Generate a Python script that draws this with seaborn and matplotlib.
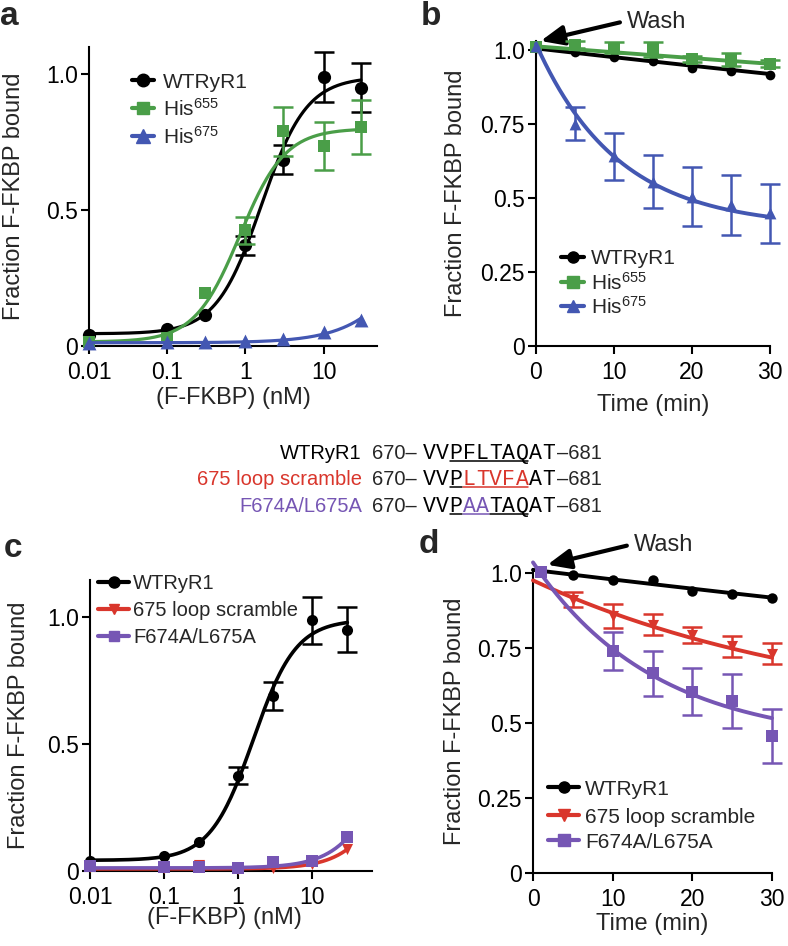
import numpy as np
import matplotlib
matplotlib.use('Agg')
import matplotlib.pyplot as plt
import seaborn as sns
from matplotlib.lines import Line2D

# ---------------- values ----------------
conc = [0.01, 0.1, 0.3, 1, 3, 10, 30]      # (F-FKBP) nM
time = [0, 5, 10, 15, 20, 25, 30]          # min

# a: binding, WT / His655 / His675
wt_a = [0.040, 0.064, 0.115, 0.370, 0.686, 0.988, 0.950]
wt_a_err = [0, 0, 0, 0.035, 0.052, 0.092, 0.090]
his655_a = [0.015, 0.030, 0.195, 0.425, 0.790, 0.736, 0.806]
his655_a_err = [0, 0, 0, 0.050, 0.090, 0.087, 0.100]
his675_a = [0.012, 0.015, 0.015, 0.020, 0.025, 0.050, 0.097]
his675_a_err = [0, 0, 0, 0, 0, 0, 0]

# b: dissociation after wash
wt_b = [1.005, 0.992, 0.975, 0.962, 0.940, 0.930, 0.915]
wt_b_err = [0, 0, 0, 0, 0, 0, 0]
his655_b = [1.010, 1.017, 1.008, 1.002, 0.968, 0.966, 0.953]
his655_b_err = [0, 0.012, 0.020, 0.025, 0.010, 0.022, 0.012]
his675_b = [1.013, 0.751, 0.640, 0.555, 0.504, 0.476, 0.448]
his675_b_err = [0, 0.055, 0.080, 0.090, 0.100, 0.100, 0.100]

# c: binding, WT / 675 loop scramble / F674A-L675A
wt_c = [0.041, 0.060, 0.116, 0.376, 0.690, 0.987, 0.950]
wt_c_err = [0, 0, 0, 0.033, 0.055, 0.094, 0.089]
scr_c = [0.017, 0.013, 0.024, 0.007, 0.010, 0.028, 0.085]
scr_c_err = [0, 0, 0, 0, 0, 0, 0]
ala_c = [0.020, 0.015, 0.015, 0.010, 0.034, 0.040, 0.135]
ala_c_err = [0, 0, 0, 0, 0, 0, 0]

# d: dissociation after wash
wt_d_t = [1, 5, 10, 15, 20, 25, 30]
wt_d = [1.005, 0.994, 0.978, 0.978, 0.939, 0.931, 0.918]
wt_d_err = [0, 0, 0, 0, 0, 0, 0]
scr_d_t = [5, 10, 15, 20, 25, 30]
scr_d = [0.910, 0.855, 0.828, 0.792, 0.755, 0.730]
scr_d_err = [0.025, 0.040, 0.035, 0.027, 0.035, 0.035]
ala_d_t = [1, 10, 15, 20, 25, 30]
ala_d = [1.003, 0.740, 0.665, 0.604, 0.574, 0.458]
ala_d_err = [0, 0.062, 0.075, 0.078, 0.090, 0.090]

# fitted curves: Hill (bottom, top, EC50, n) and one-phase decay (y0, plateau, k)
wt_a_fit = (0.045, 0.99, 1.6, 1.5)
his655_a_fit = (0.015, 0.80, 0.85, 1.5)
his675_a_fit = (0.012, 1.0, 300, 1.0)
wt_b_fit = (1.005, 0.0, 0.003)
his655_b_fit = (1.012, 0.0, 0.002)
his675_b_fit = (1.02, 0.40, 0.095)
wt_c_fit = (0.042, 0.99, 1.6, 1.5)
scr_c_fit = (0.008, 1.0, 200, 1.3)
ala_c_fit = (0.012, 1.0, 139, 1.3)
wt_d_fit = (1.01, 0.0, 0.0032)
scr_d_fit = (0.975, 0.5, 0.026)
ala_d_fit = (1.035, 0.43, 0.065)

BLACK = '#000000'
GREEN = '#4a9e48'
BLUE = '#4357b2'
RED = '#d9362c'
PURPLE = '#7656b4'


def hill(x, bottom, top, ec50, n):
    return bottom + (top - bottom) / (1 + (ec50 / x) ** n)


def decay(t, y0, plateau, k):
    return plateau + (y0 - plateau) * np.exp(-k * t)


sns.set_theme(style='ticks')
plt.rcParams['font.family'] = ['Liberation Sans', 'DejaVu Sans']
plt.rcParams['mathtext.fontset'] = 'custom'
plt.rcParams['mathtext.rm'] = 'Liberation Sans'
plt.rcParams['mathtext.default'] = 'regular'

W, H = 788, 946
fig = plt.figure(figsize=(W / 100, H / 100), dpi=100)


def fx(x):
    return x / W


def fy(y):
    return 1 - y / H


def add_ax(left, top, right, bottom):
    return fig.add_axes([fx(left), fy(bottom), (right - left) / W, (bottom - top) / H])


def series(ax, x, y, err, color, marker, ms, cx, cy, lw, z):
    sns.lineplot(x=cx, y=cy, ax=ax, color=color, lw=lw, zorder=z, legend=False)
    ax.lines[-1].set_clip_on(False)
    x, y, err = np.asarray(x, float), np.asarray(y, float), np.asarray(err, float)
    m = err > 0
    if m.any():
        eb = ax.errorbar(x[m], y[m], yerr=err[m], fmt='none', ecolor=color,
                         elinewidth=1.8, capsize=7, capthick=1.8, zorder=z + 0.1)
        for art in list(eb[1]) + list(eb[2]):
            art.set_clip_on(False)
    sns.scatterplot(x=x, y=y, ax=ax, color=color, marker=marker, s=ms ** 2,
                    linewidth=0, zorder=z + 0.2, clip_on=False, legend=False)


def style_ax(ax, ylabel_x, xlabel_y, xlabel_x=0.5):
    sns.despine(ax=ax)
    for s in ['left', 'bottom']:
        ax.spines[s].set_linewidth(1.5)
        ax.spines[s].set_color('black')
    ax.tick_params(axis='both', direction='out', length=6, width=1.5,
                   colors='black', labelsize=16.5)
    ax.tick_params(axis='y', pad=2)
    ax.tick_params(axis='x', pad=5)
    ax.set_ylabel('Fraction F-FKBP bound', fontsize=17)
    ax.yaxis.set_label_coords(ylabel_x, 0.5)
    ax.xaxis.set_label_coords(xlabel_x, xlabel_y)


def legend(entries, x0, x1, xt, ys, size, lw):
    for (label, color, marker, ms), y in zip(entries, ys):
        fig.add_artist(Line2D([fx(x0), fx(x1)], [fy(y), fy(y)], color=color, lw=lw))
        fig.add_artist(Line2D([fx((x0 + x1) / 2)], [fy(y)], color=color,
                              marker=marker, ms=ms, lw=0))
        fig.text(fx(xt), fy(y + 0.36 * size * 100 / 72), label, fontsize=size,
                 ha='left', va='baseline')


def wash(ax, tip, txt):
    ax.annotate('Wash', xy=tip, xytext=txt, fontsize=17, ha='left', va='center',
                annotation_clip=False,
                arrowprops=dict(arrowstyle='-|>,head_length=0.7,head_width=0.3',
                                mutation_scale=20, lw=3, color='black',
                                relpos=(0, 0.55), shrinkA=3, shrinkB=0))


cgrid = np.logspace(-2, np.log10(30), 200)
tgrid = np.linspace(0, 30, 200)

# ---------------- panel a ----------------
ax = add_ax(89, 47, 377, 346)
ax.set_xscale('log')
series(ax, conc, wt_a, wt_a_err, BLACK, 'o', 9.5, cgrid, hill(cgrid, *wt_a_fit), 2.3, 3)
series(ax, conc, his655_a, his655_a_err, GREEN, 's', 9, cgrid, hill(cgrid, *his655_a_fit), 2.3, 4)
series(ax, conc, his675_a, his675_a_err, BLUE, '^', 10, cgrid, hill(cgrid, *his675_a_fit), 2.3, 5)
ax.set_xlim(0.01, 48.2)
ax.set_ylim(0, 1.1)
ax.set_xticks([0.01, 0.1, 1, 10])
ax.set_xticklabels(['0.01', '0.1', '1', '10'])
ax.xaxis.set_minor_locator(matplotlib.ticker.NullLocator())
ax.set_yticks([0, 0.5, 1.0])
ax.set_yticklabels(['0', '0.5', '1.0'])
ax.set_xlabel('(F-FKBP) (nM)', fontsize=17, va='top')
style_ax(ax, -0.222, -0.137)
legend([('WTRyR1', BLACK, 'o', 9), ('His$^{655}$', GREEN, 's', 8.5),
        ('His$^{675}$', BLUE, '^', 9.5)], 132, 154, 163, [80, 108, 136], 15, 3)

# ---------------- panel b ----------------
ax = add_ax(536, 41, 770, 346)
series(ax, time, wt_b, wt_b_err, BLACK, 'o', 7, tgrid, decay(tgrid, *wt_b_fit), 2.8, 3)
series(ax, time, his655_b, his655_b_err, GREEN, 's', 8.5, tgrid, decay(tgrid, *his655_b_fit), 2.8, 4)
series(ax, time, his675_b, his675_b_err, BLUE, '^', 8.5, tgrid, decay(tgrid, *his675_b_fit), 2.8, 5)
ax.set_xlim(0, 30)
ax.set_ylim(0, 1.03)
ax.set_xticks([0, 10, 20, 30])
ax.set_yticks([0, 0.25, 0.5, 0.75, 1.0])
ax.set_yticklabels(['0', '0.25', '0.5', '0.75', '1.0'])
ax.set_xlabel('Time (min)', fontsize=17, va='top')
style_ax(ax, -0.295, -0.157)
legend([('WTRyR1', BLACK, 'o', 8), ('His$^{655}$', GREEN, 's', 8),
        ('His$^{675}$', BLUE, '^', 8.5)], 561, 584, 591, [257, 282, 306], 15, 3)
wash(ax, (0.6, 1.03), (11.7, 1.095))

# ---------------- sequences ----------------
rows = [
    ('WTRyR1', BLACK, 'VVPFLTAQAT', {}, [(2, 8, BLACK)]),
    ('675 loop scramble', RED, 'VVPLTVFAAT', {3: RED, 4: RED, 5: RED, 6: RED, 7: RED},
     [(2, 3, BLACK), (3, 8, RED)]),
    ('F674A/L675A', PURPLE, 'VVPAATAQAT', {3: PURPLE, 4: PURPLE},
     [(2, 3, BLACK), (3, 5, PURPLE), (5, 8, BLACK)]),
]
base_y = [459, 485, 512]
seq_x0, step = 423, 13.2
for (label, lcolor, seq, colored, unders), yb in zip(rows, base_y):
    fig.text(fx(362), fy(yb), label, color=lcolor, fontsize=14.5, ha='right', va='baseline')
    fig.text(fx(372), fy(yb), '670–', fontsize=14.5, ha='left', va='baseline')
    for i, ch in enumerate(seq):
        fig.text(fx(seq_x0 + (i + 0.5) * step), fy(yb), ch, color=colored.get(i, BLACK),
                 family='Liberation Mono', fontsize=15.5, ha='center', va='baseline')
    for a, b, c in unders:
        fig.add_artist(Line2D([fx(seq_x0 + a * step + 0.5), fx(seq_x0 + b * step - 0.5)],
                              [fy(yb + 2), fy(yb + 2)], color=c, lw=1.1))
    fig.text(fx(557), fy(yb), '–681', fontsize=14.5, ha='left', va='baseline')

# ---------------- panel c ----------------
ax = add_ax(90, 580, 372, 871)
ax.set_xscale('log')
series(ax, conc, wt_c, wt_c_err, BLACK, 'o', 8, cgrid, hill(cgrid, *wt_c_fit), 2.6, 3)
series(ax, conc, scr_c, scr_c_err, RED, 'v', 8, cgrid, hill(cgrid, *scr_c_fit), 2.6, 4)
series(ax, conc, ala_c, ala_c_err, PURPLE, 's', 8, cgrid, hill(cgrid, *ala_c_fit), 2.6, 5)
ax.set_xlim(0.01, 64.6)
ax.set_ylim(0, 1.146)
ax.set_xticks([0.01, 0.1, 1, 10])
ax.set_xticklabels(['0.01', '0.1', '1', '10'])
ax.xaxis.set_minor_locator(matplotlib.ticker.NullLocator())
ax.set_yticks([0, 0.5, 1.0])
ax.set_yticklabels(['0', '0.5', '1.0'])
ax.set_xlabel('(F-FKBP) (nM)', fontsize=17, va='top')
style_ax(ax, -0.213, -0.124, 0.475)
legend([('WTRyR1', BLACK, 'o', 8), ('675 loop scramble', RED, 'v', 7.5),
        ('F674A/L675A', PURPLE, 's', 7.5)], 98, 129, 133, [582, 609, 636], 14.5, 3)

# ---------------- panel d ----------------
ax = add_ax(533, 569, 772, 873)
series(ax, wt_d_t, wt_d, wt_d_err, BLACK, 'o', 7.5, tgrid, decay(tgrid, *wt_d_fit), 2.8, 3)
series(ax, scr_d_t, scr_d, scr_d_err, RED, 'v', 8, tgrid, decay(tgrid, *scr_d_fit), 2.8, 4)
series(ax, ala_d_t, ala_d, ala_d_err, PURPLE, 's', 8.5, tgrid, decay(tgrid, *ala_d_fit), 2.8, 5)
ax.set_xlim(0, 30)
ax.set_ylim(0, 1.013)
ax.set_xticks([0, 10, 20, 30])
ax.set_yticks([0, 0.25, 0.5, 0.75, 1.0])
ax.set_yticklabels(['0', '0.25', '0.5', '0.75', '1.0'])
ax.set_xlabel('Time (min)', fontsize=17, va='top')
style_ax(ax, -0.28, -0.132)
legend([('WTRyR1', BLACK, 'o', 8), ('675 loop scramble', RED, 'v', 8),
        ('F674A/L675A', PURPLE, 's', 8)], 548, 579, 585, [787, 815, 840], 15, 3)
wash(ax, (1.8, 1.027), (12.7, 1.093))

# panel letters
for letter, x, y in [('a', 0, 25), ('b', 421, 25), ('c', 4, 557), ('d', 419, 553)]:
    fig.text(fx(x), fy(y), letter, fontsize=24, fontweight='bold', ha='left', va='baseline')

fig.savefig('out.png', dpi=100)
